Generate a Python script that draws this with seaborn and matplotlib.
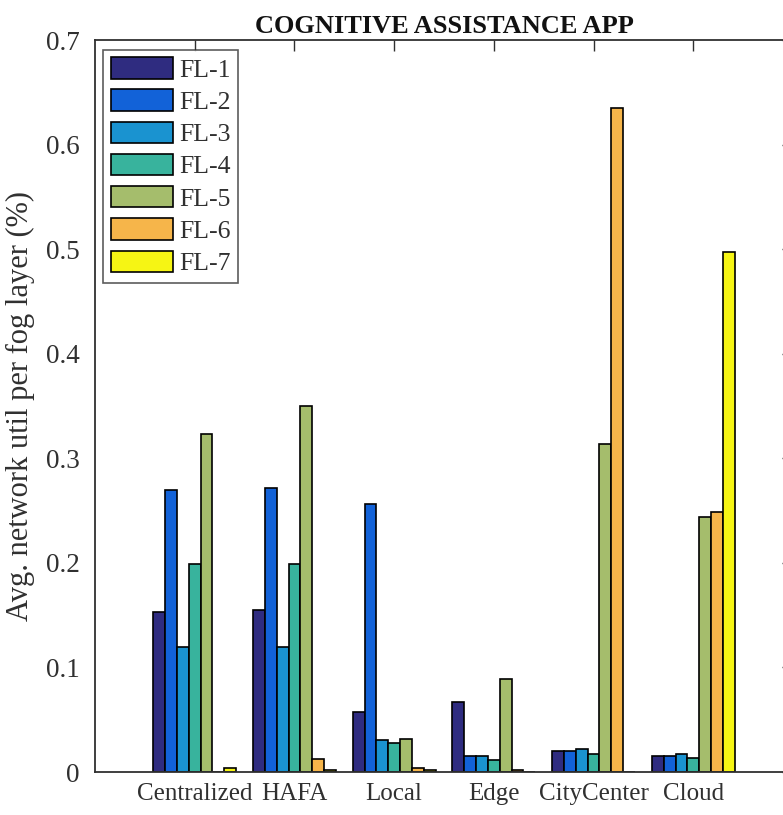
import numpy as np
import pandas as pd
import matplotlib
matplotlib.use("Agg")
import matplotlib.pyplot as plt
from matplotlib.patches import Patch
import seaborn as sns

# Placement schemes on the x axis
schemes = ["Centralized", "HAFA", "Local", "Edge", "CityCenter", "Cloud"]
layers = ["FL-1", "FL-2", "FL-3", "FL-4", "FL-5", "FL-6", "FL-7"]

# Average network utilisation per fog layer, one list per layer (order of schemes)
fl1 = [0.153, 0.155, 0.057, 0.067, 0.020, 0.015]
fl2 = [0.270, 0.272, 0.256, 0.015, 0.020, 0.015]
fl3 = [0.120, 0.120, 0.031, 0.015, 0.022, 0.017]
fl4 = [0.199, 0.199, 0.028, 0.011, 0.017, 0.013]
fl5 = [0.323, 0.350, 0.032, 0.089, 0.314, 0.244]
fl6 = [0.000, 0.012, 0.004, 0.002, 0.635, 0.249]
fl7 = [0.004, 0.002, 0.002, 0.000, 0.000, 0.497]

yticks = [0, 0.1, 0.2, 0.3, 0.4, 0.5, 0.6, 0.7]
ytick_labels = ["0", "0.1", "0.2", "0.3", "0.4", "0.5", "0.6", "0.7"]

colors = ["#2f2c80", "#1262d8", "#1a93d0", "#38b39d", "#a5bd6c", "#f6b54a", "#f6f514"]

series = [fl1, fl2, fl3, fl4, fl5, fl6, fl7]
df = pd.DataFrame({
    "scheme": [s for vals in series for s in schemes],
    "layer": [lay for lay, vals in zip(layers, series) for _ in vals],
    "util": [v for vals in series for v in vals],
})

sns.set_style("white")
plt.rcParams["font.family"] = ["Liberation Serif", "DejaVu Serif"]
text_color = "#303030"

fig = plt.figure(figsize=(7.83, 8.15), dpi=100)
ax = fig.add_axes([95 / 783, 43 / 815, 698 / 783, 732 / 815])

sns.barplot(
    data=df, x="scheme", y="util", hue="layer",
    order=schemes, hue_order=layers, palette=colors,
    width=0.83, gap=0, saturation=1, errorbar=None,
    edgecolor="black", linewidth=1.2, legend=False, ax=ax,
)

ax.set_xlim(-1, 6)
ax.set_ylim(0, 0.7)
ax.set_yticks(yticks)
ax.set_yticklabels(ytick_labels)
ax.set_xlabel("")
ax.set_ylabel("Avg. network util per fog layer (%)", fontsize=22, color=text_color, labelpad=8)
ax.set_title("COGNITIVE ASSISTANCE APP", fontsize=19, fontweight="bold", color="#111111", pad=5)

ax.tick_params(axis="both", direction="in", top=True, right=True, length=8, width=1,
               color=text_color, labelsize=18, labelcolor=text_color)
ax.tick_params(axis="y", labelsize=19.5, pad=11)
ax.tick_params(axis="x", pad=8)
for sp in ax.spines.values():
    sp.set_visible(True)
    sp.set_color(text_color)
    sp.set_linewidth(1.3)

handles = [Patch(facecolor=c, edgecolor="black", linewidth=1.2) for c in colors]
leg = ax.legend(handles, layers, loc="upper left", bbox_to_anchor=(0.012, 0.987),
                fontsize=18.5, frameon=True, fancybox=False, edgecolor="#333333",
                handlelength=2.4, handleheight=0.9, handletextpad=0.25,
                labelspacing=0.3, borderpad=0.3, borderaxespad=0)
leg.get_frame().set_linewidth(1.2)
for t in leg.get_texts():
    t.set_color(text_color)

fig.savefig("out.png", dpi=100)
